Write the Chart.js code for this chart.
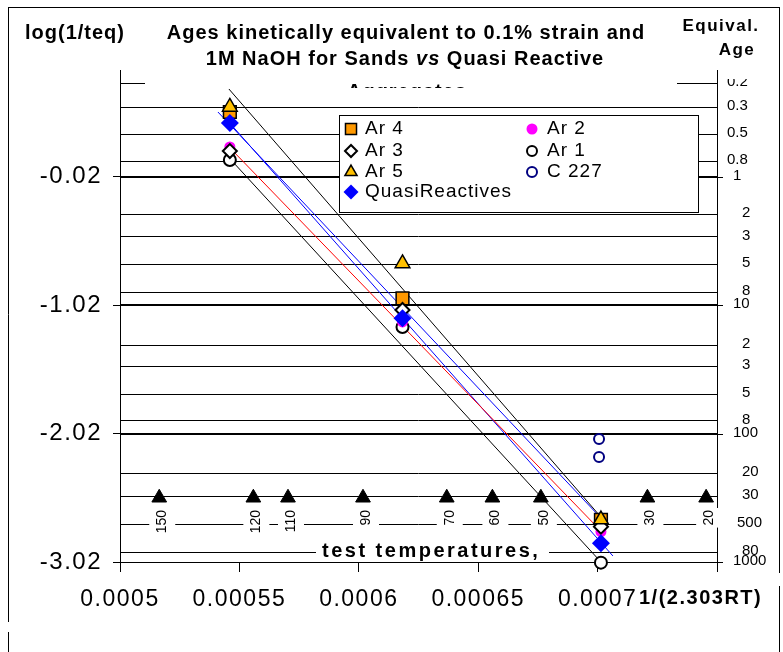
<!DOCTYPE html>
<html>
<head>
<meta charset="utf-8">
<script src="https://cdn.jsdelivr.net/npm/chart.js@4.4.0/dist/chart.umd.min.js"></script>
<style>
    html, body { margin: 0; padding: 0; background: #fff; }
    canvas { display: block; }
</style>
</head>
<body>
<canvas id="grafico" width="783" height="652"></canvas>
<script>
// 1. Datos
const xTicks = [0.0005, 0.00055, 0.0006, 0.00065, 0.0007, 0.00075];
const yTicks = [-3.02, -2.02, -1.02, -0.02];

// x = 1/(2.303RT) de los tres ensayos
const xEnsayos = [0.000546, 0.0006183, 0.0007014];
const ar4   = [0.482, -0.968, -2.693];
const ar3   = [0.178, -1.059, -2.745];
const ar5   = [0.521, -0.697, -2.690];
const quasi = [0.396, -1.124, -2.875];
const ar2   = [0.210, -1.152, -2.784];
const ar1   = [0.108, -1.191, -3.025];
const xC227 = [0.0007006, 0.0007006];
const c227  = [-2.063, -2.203];

// rectas de ajuste (inicio, fin)
const negraSupX = [0.0005456, 0.000701];
const negraSupY = [0.661, -2.662];
const azulSupX  = [0.000541, 0.0007002];
const azulSupY  = [0.482, -2.654];
const rojaX     = [0.0005469, 0.000701];
const rojaY     = [0.186, -2.771];
const azulInfX  = [0.0005452, 0.0007064];
const azulInfY  = [0.412, -2.973];
const negraInfX = [0.0005473, 0.0007014];
const negraInfY = [0.093, -3.02];

// edad equivalente (eje derecho) y su log(1/teq)
const edadLabels = ['0.2', '0.3', '0.5', '0.8', '1', '2', '3', '5', '8', '10', '2', '3', '5', '8', '100', '20', '30', '500', '80', '1000'];
const edadLogs   = [0.707, 0.521, 0.308, 0.100, -0.02, -0.309, -0.486, -0.700, -0.916, -1.02, -1.333, -1.497, -1.715, -1.918, -2.02, -2.33, -2.508, -2.723, -2.942, -3.02];
const lineasGruesas = [-0.02, -1.02, -2.02];

// temperaturas de ensayo (°C)
const tempEnsayo = [150, 120, 110, 90, 70, 60, 50, 30, 20];
const nivelTemp = -2.52;

const FUENTE = '"Liberation Sans", Arial, sans-serif';
const pts = (xs, ys) => xs.map((x, i) => ({ x: x, y: ys[i] }));
const xTemp = t => 1 / (2.303 * 1.987 * (t + 273.15));

function serie(label, xs, ys, estilo) {
    return Object.assign({ label: label, data: pts(xs, ys), showLine: false, clip: false }, estilo);
}
function recta(xs, ys, color) {
    return { label: '', data: pts(xs, ys), showLine: true, pointRadius: 0, borderColor: color, borderWidth: 1, clip: false };
}

const dsQuasi = serie('QuasiReactives', xEnsayos, quasi, { pointStyle: 'rectRot', pointRadius: 9, backgroundColor: '#0000FF', borderColor: '#0000FF', borderWidth: 0 });
const dsAr5 = serie('Ar 5', xEnsayos, ar5, { pointStyle: 'triangle', pointRadius: 8.5, backgroundColor: '#FFC000', borderColor: '#000', borderWidth: 1.5 });
const dsAr3 = serie('Ar 3', xEnsayos, ar3, { pointStyle: 'rectRot', pointRadius: 7, backgroundColor: '#fff', borderColor: '#000', borderWidth: 2 });
const dsAr4 = serie('Ar 4', xEnsayos, ar4, { pointStyle: 'rect', pointRadius: 9, backgroundColor: '#FF9900', borderColor: '#000', borderWidth: 1.5 });
const dsAr2 = serie('Ar 2', xEnsayos, ar2, { pointStyle: 'circle', pointRadius: 5.5, backgroundColor: '#FF00FF', borderColor: '#FF00FF', borderWidth: 0 });
const dsAr1 = serie('Ar 1', xEnsayos, ar1, { pointStyle: 'circle', pointRadius: 6, backgroundColor: '#fff', borderColor: '#000', borderWidth: 2 });
const dsC227 = serie('C 227', xC227, c227, { pointStyle: 'circle', pointRadius: 5, backgroundColor: '#fff', borderColor: '#000080', borderWidth: 2 });
const dsTemp = {
    label: '', data: tempEnsayo.map(t => ({ x: xTemp(t), y: nivelTemp })), showLine: false, clip: false,
    pointStyle: 'triangle', pointRadius: 8.5, backgroundColor: '#000', borderColor: '#000', borderWidth: 1
};

// 2. Decoración: rejilla, textos, leyenda
function texto(ctx, t, x, y, font, align, espaciado) {
    ctx.font = font;
    ctx.letterSpacing = (espaciado || 0) + 'px';
    ctx.textAlign = align || 'left';
    ctx.textBaseline = 'middle';
    ctx.fillStyle = '#000';
    ctx.fillText(t, x, y);
}
function linea(ctx, x1, y1, x2, y2, w) {
    ctx.beginPath();
    ctx.lineWidth = w || 1;
    ctx.strokeStyle = '#000';
    ctx.moveTo(x1, y1);
    ctx.lineTo(x2, y2);
    ctx.stroke();
}
function marca(ctx, ds, x, y, r) {
    ctx.save();
    ctx.fillStyle = ds.backgroundColor;
    ctx.strokeStyle = ds.borderColor;
    ctx.lineWidth = ds.borderWidth;
    Chart.helpers.drawPoint(ctx, { pointStyle: ds.pointStyle, radius: r, rotation: 0, borderWidth: ds.borderWidth }, x, y);
    ctx.restore();
}

const decoracion = {
    id: 'decoracion',
    beforeDraw(chart) {
        chart.ctx.letterSpacing = '1.5px';
    },
    beforeDatasetsDraw(chart) {
        const ctx = chart.ctx, a = chart.chartArea;
        const sx = chart.scales.x, sy = chart.scales.y;
        ctx.save();
        // rejilla horizontal (edades equivalentes)
        edadLogs.forEach(v => {
            const y = Math.round(sy.getPixelForValue(v));
            const grueso = lineasGruesas.includes(v);
            linea(ctx, a.left, grueso ? y : y + 0.5, a.right, grueso ? y : y + 0.5, grueso ? 2 : 1);
        });
        // eje derecho
        linea(ctx, a.right + 0.5, a.top, a.right + 0.5, 572, 1);
        yTicks.forEach(v => {
            const y = Math.round(sy.getPixelForValue(v)) + 0.5;
            linea(ctx, a.right, y, a.right + 6, y, 1);
        });
        edadLabels.forEach((t, i) => {
            const y = sy.getPixelForValue(edadLogs[i]) - 1;
            let x = 742;
            if (['1', '10', '100', '1000'].includes(t)) x = 733;
            else if (t.startsWith('0.')) x = 727;
            else if (t.length === 3) x = 737;
            texto(ctx, t, x, y, '15px ' + FUENTE, 'left', 0);
        });
        // etiquetas de temperatura
        tempEnsayo.forEach(t => {
            const x = sx.getPixelForValue(xTemp(t)) + 3;
            ctx.font = '14px ' + FUENTE;
            ctx.letterSpacing = '0px';
            const w = ctx.measureText(String(t)).width;
            ctx.fillStyle = '#fff';
            ctx.fillRect(x - 13, 508, 26, w + 4);
            ctx.save();
            ctx.translate(x, 510);
            ctx.rotate(-Math.PI / 2);
            texto(ctx, String(t), 0, 0, '14px ' + FUENTE, 'right', 0);
            ctx.restore();
        });
        ctx.fillStyle = '#fff';
        ctx.fillRect(316, 541, 233, 20);
        texto(ctx, 'test temperatures,', 322, 551, 'bold 20px ' + FUENTE, 'left', 2.5);
        ctx.restore();
    },
    afterDatasetsDraw(chart) {
        const ctx = chart.ctx;
        ctx.save();
        ctx.fillStyle = '#fff';
        ctx.fillRect(339, 115, 359, 97);
        ctx.strokeStyle = '#000';
        ctx.lineWidth = 1;
        ctx.strokeRect(339.5, 115.5, 359, 97);
        const col1 = [[dsAr4, 7.8], [dsAr3, 6], [dsAr5, 7], [dsQuasi, 7.5]];
        const col2 = [[dsAr2, 5.5], [dsAr1, 5], [dsC227, 5]];
        const filas = [129, 151, 172, 192];
        col1.forEach((it, i) => {
            marca(ctx, it[0], 351, filas[i], it[1]);
            texto(ctx, it[0].label, 365, filas[i], '19px ' + FUENTE, 'left', 1);
        });
        col2.forEach((it, i) => {
            marca(ctx, it[0], 532, filas[i], it[1]);
            texto(ctx, it[0].label, 547, filas[i], '19px ' + FUENTE, 'left', 1);
        });
        ctx.restore();
    },
    afterDraw(chart) {
        const ctx = chart.ctx;
        ctx.save();
        // zona del título
        ctx.fillStyle = '#fff';
        ctx.fillRect(100, 0, 625, 70);
        ctx.fillRect(722, 0, 55, 79);
        ctx.fillRect(145, 70, 532, 18);
        ctx.save();
        ctx.beginPath();
        ctx.rect(145, 70, 532, 18);
        ctx.clip();
        ctx.font = 'bold 20px ' + FUENTE;
        ctx.letterSpacing = '1px';
        ctx.textAlign = 'center';
        ctx.textBaseline = 'alphabetic';
        ctx.fillStyle = '#000';
        ctx.fillText('Aggregates', 407, 98);
        ctx.restore();

        const fb = 'bold 20px ' + FUENTE;
        texto(ctx, 'log(1/teq)', 25, 33, fb, 'left', 1);
        texto(ctx, 'Ages kinetically equivalent to 0.1% strain and', 406, 33, fb, 'center', 1);
        // segunda línea con "vs" en cursiva
        const partes = [['1M NaOH for Sands ', fb], ['vs', 'italic ' + fb], [' Quasi Reactive', fb]];
        ctx.letterSpacing = '1px';
        let total = 0;
        partes.forEach(p => { ctx.font = p[1]; p.push(ctx.measureText(p[0]).width); total += p[2]; });
        let x = 405 - total / 2;
        partes.forEach(p => { texto(ctx, p[0], x, 59, p[1], 'left', 1); x += p[2]; });

        texto(ctx, 'Equival.', 721, 26, 'bold 17px ' + FUENTE, 'center', 1.5);
        texto(ctx, 'Age', 737, 50, 'bold 17px ' + FUENTE, 'center', 1.5);
        texto(ctx, '1/(2.303RT)', 639, 598, 'bold 20px ' + FUENTE, 'left', 1.5);

        // marco exterior
        linea(ctx, 8.5, 7, 8.5, 622, 1);
        linea(ctx, 8.5, 632, 8.5, 652, 1);
        linea(ctx, 8, 7.5, 780, 7.5, 1);
        linea(ctx, 779.5, 7, 779.5, 573, 1);
        linea(ctx, 779.5, 586, 779.5, 652, 1);
        ctx.restore();
    }
};

// 3. Gráfico
new Chart(document.getElementById('grafico').getContext('2d'), {
    type: 'scatter',
    data: {
        datasets: [
            dsQuasi, dsAr5, dsAr3, dsAr4, dsAr2, dsAr1, dsC227, dsTemp,
            recta(negraSupX, negraSupY, '#000'),
            recta(azulSupX, azulSupY, '#0000FF'),
            recta(rojaX, rojaY, '#FF0000'),
            recta(azulInfX, azulInfY, '#0000FF'),
            recta(negraInfX, negraInfY, '#000')
        ]
    },
    options: {
        responsive: false,
        animation: false,
        devicePixelRatio: 1,
        events: [],
        layout: { padding: { top: 48, right: 66, left: 0, bottom: 0 } },
        plugins: { legend: { display: false }, tooltip: { enabled: false } },
        scales: {
            x: {
                type: 'linear', min: 0.0005, max: 0.00075,
                afterBuildTicks: s => { s.ticks = xTicks.map(v => ({ value: v })); },
                afterFit: s => { s.height = 90; },
                grid: { drawOnChartArea: false, tickLength: 10, color: '#000' },
                border: { color: '#000', width: 1 },
                ticks: {
                    autoSkip: false, maxRotation: 0, padding: 14, color: '#000',
                    font: { family: FUENTE, size: 23 },
                    callback: v => v > 0.00074 ? '' : String(parseFloat(v.toFixed(5)))
                }
            },
            y: {
                type: 'linear', min: -3.02, max: 0.98,
                afterBuildTicks: s => { s.ticks = yTicks.map(v => ({ value: v })); },
                afterFit: s => { s.width = 120; },
                grid: { drawOnChartArea: false, tickLength: 7, color: '#000' },
                border: { color: '#000', width: 1 },
                ticks: {
                    padding: 11, color: '#000',
                    font: { family: FUENTE, size: 24 },
                    callback: v => v.toFixed(2)
                }
            }
        }
    },
    plugins: [decoracion]
});
</script>
</body>
</html>
